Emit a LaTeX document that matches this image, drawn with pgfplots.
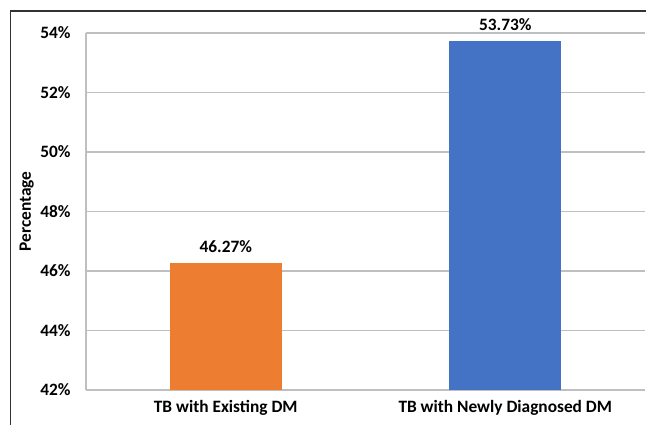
\documentclass[border=0pt]{standalone}
\usepackage{pgfplots}
\pgfplotsset{compat=1.18}
\usepackage{fontspec}
\setmainfont{Carlito}
\definecolor{barorange}{HTML}{ED7D31}
\definecolor{barblue}{HTML}{4472C4}
\definecolor{gridgray}{HTML}{BFBFBF}
\definecolor{framegray}{HTML}{333333}
\begin{document}
\begin{tikzpicture}
% 1 px of the reference = 0.75pt
\useasboundingbox (0pt,0pt) rectangle (484.5pt,318.75pt);
% partial outer frame (left and top edges)
\draw[framegray, line width=1.1pt] (7.9pt,0pt) -- (7.9pt,310.5pt) -- (484.5pt,310.5pt);
\begin{axis}[
    at={(64.5pt,26.25pt)}, anchor=south west,
    scale only axis,
    width=419.25pt, height=267.75pt,
    ybar, bar width=84pt, bar shift=0pt,
    xmin=-0.5, xmax=1.5,
    ymin=42, ymax=54,
    ytick={42,44,46,48,50,52,54},
    yticklabel={\pgfmathprintnumber{\tick}\%},
    xtick={0,1},
    xticklabels={TB with Existing DM, TB with Newly Diagnosed DM},
    axis x line=bottom, axis y line=left,
    axis line style={gridgray, line width=0.8pt, -},
    major tick length=0pt,
    ymajorgrids=true,
    grid style={gridgray, line width=0.8pt},
    font=\fontsize{13}{15}\selectfont\bfseries,
    tick label style={font=\fontsize{13}{15}\selectfont\bfseries},
    /pgf/number format/assume math mode=true,
    yticklabel style={xshift=-8pt},
    xticklabel style={yshift=-4pt},
    ylabel={Percentage},
    ylabel style={font=\fontsize{13}{15}\selectfont\bfseries, yshift=-2pt},
    nodes near coords={\pgfmathprintnumber[fixed,precision=2,fixed zerofill]{\pgfplotspointmeta}\%},
    nodes near coords style={font=\fontsize{13}{15}\selectfont\bfseries, text=black, anchor=south, yshift=4pt},
]
\addplot[fill=barorange, draw=none] coordinates {(0,46.27)};
\addplot[fill=barblue, draw=none] coordinates {(1,53.73)};
\end{axis}
\end{tikzpicture}
\end{document}
